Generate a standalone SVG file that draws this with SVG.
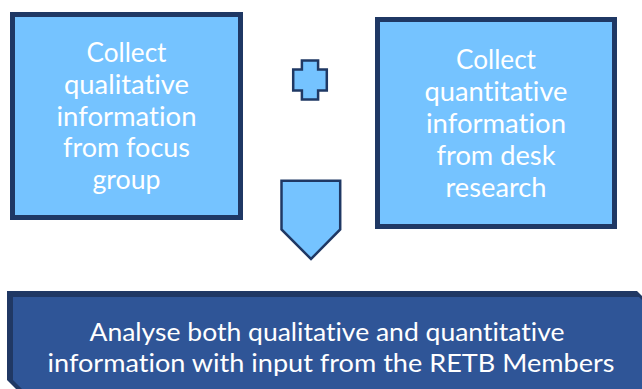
<svg xmlns="http://www.w3.org/2000/svg" width="642" height="389" viewBox="0 0 642 389">
<style>
.box{fill:#75C3FF;stroke:#1F3864;stroke-width:5}
.sym{fill:#75C3FF;stroke:#1F3864;stroke-width:2.5;stroke-linejoin:miter}
.t{font-family:Lato,"Open Sans","Liberation Sans",sans-serif;fill:#FFFFFF;text-anchor:middle;font-variant-ligatures:none;font-feature-settings:"liga" 0,"clig" 0}
.tb{font-size:26px}
.tl{font-size:25px}
</style>
<rect width="642" height="389" fill="#FFFFFF"/>
<g id="node-qualitative">
<rect class="box" x="12.5" y="14.5" width="228" height="203"/>
<text class="t tb" x="126.5" y="62" textLength="80" lengthAdjust="spacingAndGlyphs">Collect</text>
<text class="t tb" x="126.5" y="94" textLength="125" lengthAdjust="spacingAndGlyphs">qualitative</text>
<text class="t tb" x="126.5" y="126" textLength="140" lengthAdjust="spacingAndGlyphs">information</text>
<text class="t tb" x="126.5" y="157" textLength="127" lengthAdjust="spacingAndGlyphs">from focus</text>
<text class="t tb" x="126.5" y="189" textLength="68" lengthAdjust="spacingAndGlyphs">group</text>
</g>
<g id="node-plus">
<path class="sym" d="M301.9,60.5 H318.1 V69.5 H326.8 V90.5 H318.1 V99.5 H301.9 V90.5 H293.2 V69.5 H301.9 Z"/>
</g>
<g id="node-quantitative">
<rect class="box" x="377.5" y="19.5" width="237" height="207"/>
<text class="t tb" x="496" y="69" textLength="80" lengthAdjust="spacingAndGlyphs">Collect</text>
<text class="t tb" x="496" y="101" textLength="143" lengthAdjust="spacingAndGlyphs">quantitative</text>
<text class="t tb" x="496" y="133" textLength="140" lengthAdjust="spacingAndGlyphs">information</text>
<text class="t tb" x="496" y="165" textLength="119" lengthAdjust="spacingAndGlyphs">from desk</text>
<text class="t tb" x="496" y="197" textLength="101" lengthAdjust="spacingAndGlyphs">research</text>
</g>
<g id="connectors">
<path class="sym" stroke-width="3" d="M281.5,180.8 H340.2 V229.5 L311,259 L281.5,229.5 Z"/>
</g>
<g id="node-analyse">
<path d="M7,291 L637,291 L660,314 L660,400 L27,400 L7,380 Z" fill="#203864"/>
<path d="M13,297 L639,297 L660,318 L660,400 L33,400 L13,380 Z" fill="#2F5597"/>
<text class="t tl" x="327" y="341" textLength="475" lengthAdjust="spacingAndGlyphs">Analyse both qualitative and quantitative</text>
<text class="t tl" x="331" y="372" textLength="567" lengthAdjust="spacingAndGlyphs">information with input from the RETB Members</text>
</g>
</svg>
